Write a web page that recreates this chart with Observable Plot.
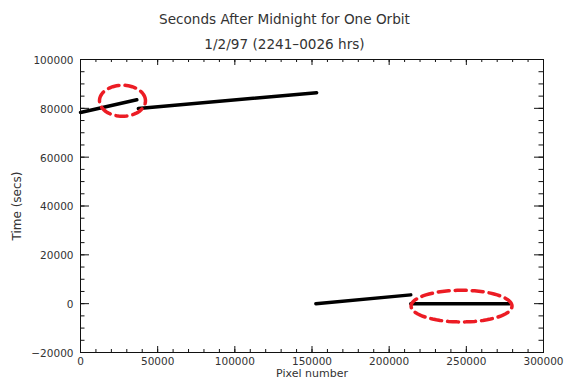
<!DOCTYPE html>
<html>
<head>
<meta charset="utf-8">
<script src="https://cdn.jsdelivr.net/npm/d3@7"></script>
<script src="https://cdn.jsdelivr.net/npm/@observablehq/plot@0.6"></script>
<style>
  html, body { margin: 0; padding: 0; background: #fff; }
  #chart svg { display: block; }
</style>
</head>
<body>
<div id="chart"></div>
<script>
// ---- data ----
const segment = ["A", "A", "B", "B", "C", "C", "D", "D"];
const pixel   = [0, 36500, 37500, 153000, 152500, 214000, 214000, 278000];
const seconds = [78300, 83500, 79900, 86400, 0, 3600, 0, 0];

// highlight ellipses (annotations)
const ellipseName = ["E1", "E2"];
const ellipseCx = [27200, 246900];
const ellipseCy = [83100, -1000];
const ellipseRx = [14900, 32700];
const ellipseRy = [6350, 6480];

// ticks
const xTicks = [0, 50000, 100000, 150000, 200000, 250000, 300000];
const yTicks = [-20000, 0, 20000, 40000, 60000, 80000, 100000];
const xMinor = d3.range(0, 300001, 10000);
const yMinor = d3.range(-20000, 100001, 5000);

const titleText = "Seconds After Midnight for One Orbit";
const subtitleText = "1/2/97 (2241\u20130026 hrs)";
const xLabel = "Pixel number";
const yLabel = "Time (secs)";

// ---- build tables ----
const rows = pixel.map((p, i) => ({seg: segment[i], x: p, y: seconds[i]}));
const ellipsePts = [];
ellipseName.forEach((n, k) => {
  for (let a = 0; a < 72; a++) {
    const t = (a / 72) * 2 * Math.PI;
    ellipsePts.push({e: n, x: ellipseCx[k] + ellipseRx[k] * Math.cos(t), y: ellipseCy[k] + ellipseRy[k] * Math.sin(t)});
  }
});

const W = 571, H = 379;
const mL = 80, mR = 28, mT = 59, mB = 27;
const pw = W - mL - mR, ph = H - mT - mB;
const ink = "#111";
const txt = "#333";
const font = "DejaVu Sans";

const chart = Plot.plot({
  width: W,
  height: H,
  marginLeft: mL,
  marginRight: mR,
  marginTop: mT,
  marginBottom: mB,
  style: {fontFamily: font, fontSize: "10.5px", color: txt, background: "#fff"},
  x: {domain: [0, 300000]},
  y: {domain: [-20000, 100000]},
  marks: [
    // tick marks (inward, IDL style)
    Plot.ruleX(xMinor, {x: d => d, insetTop: ph - 3, stroke: ink}),
    Plot.ruleX(xMinor, {x: d => d, insetBottom: ph - 3, stroke: ink}),
    Plot.ruleX(xTicks, {x: d => d, insetTop: ph - 6, stroke: ink}),
    Plot.ruleX(xTicks, {x: d => d, insetBottom: ph - 6, stroke: ink}),
    Plot.ruleY(yMinor, {y: d => d, insetRight: pw - 4.5, stroke: ink}),
    Plot.ruleY(yMinor, {y: d => d, insetLeft: pw - 4.5, stroke: ink}),
    Plot.ruleY(yTicks, {y: d => d, insetRight: pw - 9, stroke: ink}),
    Plot.ruleY(yTicks, {y: d => d, insetLeft: pw - 9, stroke: ink}),
    Plot.frame({stroke: ink}),
    Plot.axisX({ticks: xTicks, tickSize: 0, tickPadding: 5, tickFormat: d => String(d), label: null, fill: txt}),
    Plot.axisY({ticks: yTicks, tickSize: 0, tickPadding: 7, tickFormat: d => d < 0 ? "\u2212" + String(-d) : String(d), label: null, fill: txt, dy: 1}),
    // data
    Plot.line(rows, {x: "x", y: "y", z: "seg", stroke: "#000", strokeWidth: 3.5}),
    // annotations
    Plot.line(ellipsePts, {x: "x", y: "y", z: "e", curve: "linear-closed", stroke: "#ec1c24", strokeWidth: 3.5, strokeDasharray: "11,6"}),
    // titles
    Plot.text([titleText], {frameAnchor: "top", text: d => d, dx: 284 - (mL + pw / 2), dy: 19 - mT, lineAnchor: "middle", textAnchor: "middle", fontSize: 13.6, fill: txt}),
    Plot.text([subtitleText], {frameAnchor: "top", text: d => d, dx: 284 - (mL + pw / 2), dy: 44 - mT, lineAnchor: "middle", textAnchor: "middle", fontSize: 13.6, fill: txt}),
    Plot.text([xLabel], {frameAnchor: "bottom", text: d => d, dy: 373 - (mT + ph), lineAnchor: "middle", textAnchor: "middle", fontSize: 11, fill: txt}),
    Plot.text([yLabel], {frameAnchor: "left", text: d => d, dx: 17 - mL, rotate: -90, lineAnchor: "middle", textAnchor: "middle", fontSize: 12, fill: txt})
  ]
});
document.getElementById("chart").appendChild(chart);
</script>
</body>
</html>
